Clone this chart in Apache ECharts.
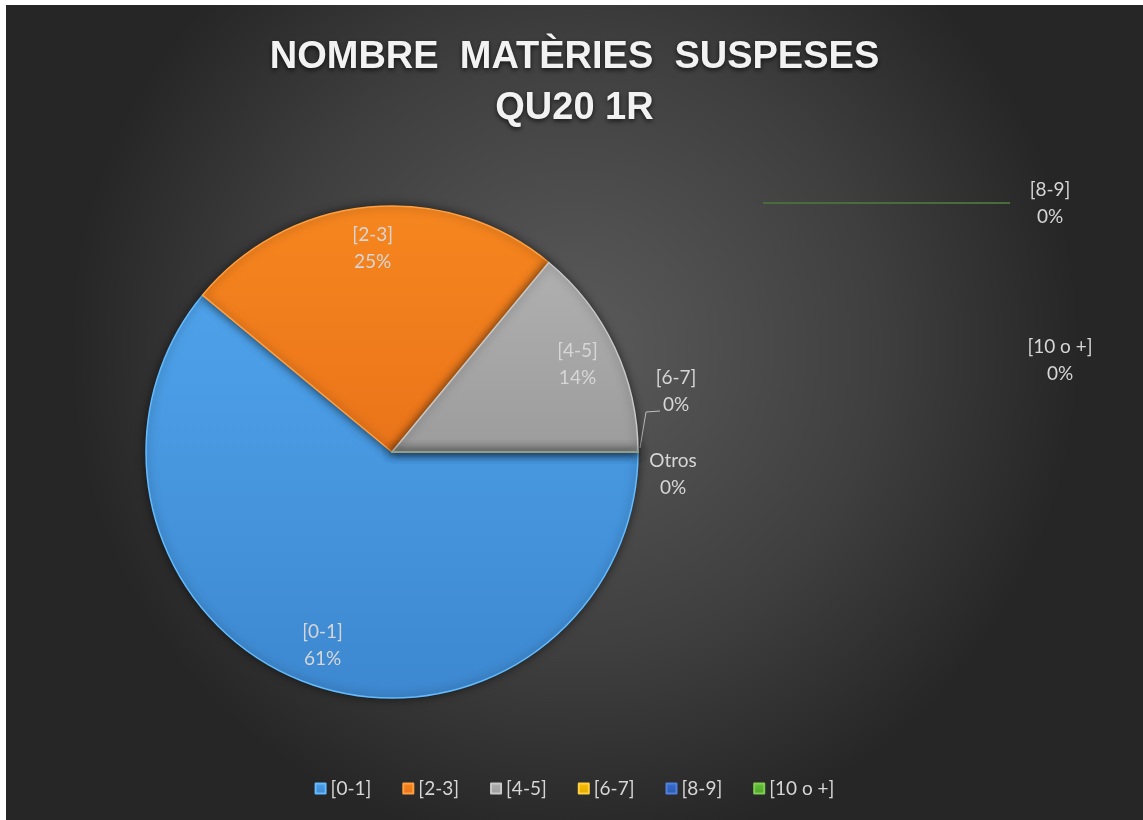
<!DOCTYPE html>
<html>
<head>
<meta charset="utf-8">
<title>Nombre matèries suspeses</title>
<script src="https://cdn.jsdelivr.net/npm/echarts@6/dist/echarts.min.js"></script>
<style>
  html, body {
    margin: 0;
    padding: 0;
    background: #ffffff;
  }

  #chart {
    position: absolute;
    left: 6px;
    top: 5px;
    width: 1137px;
    height: 815px;
  }
</style>
</head>
<body>
<div id="chart"></div>
<script>
  // categories and values
  var categories = ['[0-1]', '[2-3]', '[4-5]', '[6-7]', '[8-9]', '[10 o +]', 'Otros']
  var values = [61, 25, 14, 0, 0, 0, 0]
  var legendItems = ['[0-1]', '[2-3]', '[4-5]', '[6-7]', '[8-9]', '[10 o +]']

  var colors = [
    ['#4ea2ea', '#3d88d0', '#63bcff'],
    ['#f6861f', '#ea741a', '#ffa040'],
    ['#b0b0b0', '#9c9c9c', '#c8c8c8'],
    ['#ffc000', '#e0a800', '#ffd040'],
    ['#3a6fd0', '#2a58b0', '#5080e0'],
    ['#66c23c', '#4ea32c', '#80d050'],
    ['#888888', '#777777', '#999999']
  ]

  // where the small (0%) labels sit in the chart box
  var zeroLabels = {
    '[6-7]': {x: 670, y: 386, line: [[634, 443], [640, 407], [654, 406]]},
    '[8-9]': {x: 1044, y: 198, line: [[757, 198], [1004, 198], [1004, 198]]},
    '[10 o +]': {x: 1054, y: 355},
    'Otros': {x: 667, y: 469}
  }

  var labelColor = '#d6d6d6'
  var fontFamily = 'Lato, "Open Sans", sans-serif'

  function gradient(c) {
    return {
      type: 'linear', x: 0, y: 0, x2: 0, y2: 1,
      colorStops: [{offset: 0, color: c[0]}, {offset: 1, color: c[1]}]
    }
  }

  var mainData = categories.map(function (name, i) {
    var zero = values[i] === 0
    var line = {show: !!(zeroLabels[name] && zeroLabels[name].line)}
    // the [8-9] leader line in the picture is dark green
    if (name === '[8-9]') line.lineStyle = {color: '#4b6b3a', width: 2}
    return {
      name: name,
      value: values[i],
      itemStyle: {color: gradient(colors[i]), borderColor: colors[i][2]},
      label: {show: zero},
      labelLine: line
    }
  })

  var labelData = categories.map(function (name, i) {
    return {
      name: name,
      value: values[i],
      label: {show: values[i] > 0}
    }
  })

  var chart = echarts.init(document.getElementById('chart'))
  chart.setOption({
    backgroundColor: {
      type: 'radial', x: 0.5, y: 0.42, r: 0.62,
      colorStops: [
        {offset: 0, color: '#5b5b5b'},
        {offset: 0.6, color: '#3f3f3f'},
        {offset: 1, color: '#262626'}
      ]
    },
    title: {
      text: 'NOMBRE  MATÈRIES  SUSPESES\nQU20 1R',
      left: 'center',
      top: 22,
      textStyle: {
        color: '#f2f2f2',
        fontFamily: '"Liberation Sans", Arial, sans-serif',
        fontSize: 38,
        fontWeight: 'bold',
        lineHeight: 51,
        textShadowColor: 'rgba(0,0,0,0.7)',
        textShadowBlur: 5,
        textShadowOffsetY: 2
      }
    },
    legend: {
      data: legendItems,
      left: 'center',
      top: 769,
      icon: 'rect',
      itemWidth: 10,
      itemHeight: 10,
      itemGap: 31,
      textStyle: {
        color: labelColor,
        fontFamily: fontFamily,
        fontSize: 19
      }
    },
    series: [
      {
        name: 'main',
        type: 'pie',
        center: [386, 447],
        radius: 246,
        startAngle: 0,
        clockwise: true,
        avoidLabelOverlap: false,
        data: mainData,
        itemStyle: {
          borderWidth: 1.5,
          shadowBlur: 10,
          shadowColor: 'rgba(0,0,0,0.55)'
        },
        label: {
          position: 'outside',
          formatter: '{b}\n{d}%',
          color: labelColor,
          fontFamily: fontFamily,
          fontSize: 19,
          lineHeight: 27,
          align: 'center'
        },
        labelLine: {
          lineStyle: {color: '#bfbfbf', width: 1}
        },
        labelLayout: function (params) {
          var name = categories[params.dataIndex]
          var pos = zeroLabels[name]
          if (!pos) return {}
          var out = {x: pos.x, y: pos.y, align: 'center', verticalAlign: 'middle'}
          if (pos.line) out.labelLinePoints = pos.line
          return out
        },
        emphasis: {scale: false}
      },
      {
        // transparent ring only to carry the inner labels at ~0.82 of the radius
        name: 'labels',
        type: 'pie',
        center: [386, 447],
        radius: 404,
        startAngle: 0,
        clockwise: true,
        silent: true,
        data: labelData,
        itemStyle: {color: 'rgba(0,0,0,0)'},
        label: {
          position: 'inside',
          formatter: '{b}\n{d}%',
          color: labelColor,
          fontFamily: fontFamily,
          fontSize: 19,
          lineHeight: 27
        },
        labelLine: {show: false},
        emphasis: {disabled: true}
      }
    ]
  })
</script>
</body>
</html>
